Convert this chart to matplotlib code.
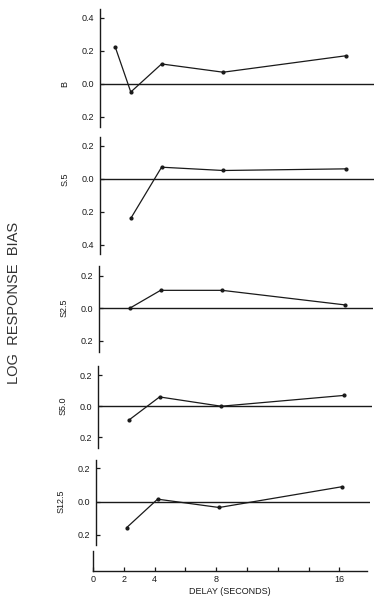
import matplotlib.pyplot as plt
import matplotlib.transforms as mtransforms
from matplotlib.ticker import FuncFormatter, FixedLocator

# data
labels = ['B', 'S.5', 'S2.5', 'S5.0', 'S12.5']
delays_b = [1, 2, 4, 8, 16]
delays = [2, 4, 8, 16]
bias_b = [0.22, -0.05, 0.12, 0.07, 0.17]
bias_s05 = [-0.24, 0.07, 0.05, 0.06]
bias_s25 = [0.0, 0.11, 0.11, 0.02]
bias_s50 = [-0.09, 0.06, 0.0, 0.07]
bias_s125 = [-0.155, 0.015, -0.035, 0.09]

xs = [delays_b, delays, delays, delays, delays]
ys = [bias_b, bias_s05, bias_s25, bias_s50, bias_s125]
yticks = [[0.4, 0.2, 0.0, -0.2], [0.2, 0.0, -0.2, -0.4],
          [0.2, 0.0, -0.2], [0.2, 0.0, -0.2], [0.2, 0.0, -0.2]]
ylims = [(-0.262, 0.453), (-0.456, 0.253), (-0.27, 0.26), (-0.27, 0.26), (-0.26, 0.25)]
xticks = [0, 2, 4, 6, 8, 10, 12, 14, 16]
xticklabels_shown = [0, 2, 4, 8, 16]

W, H = 385, 616
ink = '#1a1a1a'
plt.rcParams['font.family'] = ['Liberation Sans', 'DejaVu Sans']

fig = plt.figure(figsize=(W / 100, H / 100), dpi=100)

# panel boxes in pixels: left, top, bottom
boxes = [(100, 9, 127), (100, 137, 254), (99, 266, 352), (98, 366, 448), (96, 460, 545)]
width = 274
xmax = 17.8


def add_px_axes(left, top, bottom):
    return fig.add_axes([left / W, 1 - bottom / H, width / W, (bottom - top) / H])


fmt = FuncFormatter(lambda v, p: f'{abs(v):.1f}')

for (left, top, bottom), lab, x, y, yt, yl in zip(boxes, labels, xs, ys, yticks, ylims):
    ax = add_px_axes(left, top, bottom)
    ax.set_xlim(0, xmax)
    ax.set_ylim(*yl)
    for s in ['top', 'right', 'bottom']:
        ax.spines[s].set_visible(False)
    ax.spines['left'].set_color(ink)
    ax.spines['left'].set_linewidth(1.0)
    ax.set_xticks([])
    ax.set_yticks(yt)
    ax.yaxis.set_major_formatter(fmt)
    ax.tick_params(axis='y', direction='in', length=3, width=0.9, pad=4,
                   labelsize=6.5, colors=ink)
    ax.axhline(0, color=ink, lw=1.0)
    ax.plot(x, y, color=ink, lw=0.9, marker='o', ms=2, clip_on=False)
    tr = mtransforms.blended_transform_factory(ax.transAxes, ax.transData)
    ax.text(-35 / width, 0, lab, transform=tr, rotation=90, ha='center', va='center',
            fontsize=6.5, color=ink)

# bottom x axis
axb = add_px_axes(93, 551, 571)
axb.set_xlim(0, xmax)
axb.set_ylim(0, 1)
for s in ['top', 'right']:
    axb.spines[s].set_visible(False)
for s in ['left', 'bottom']:
    axb.spines[s].set_color(ink)
    axb.spines[s].set_linewidth(1.0)
axb.set_yticks([])
axb.xaxis.set_major_locator(FixedLocator(xticks))
axb.xaxis.set_major_formatter(FuncFormatter(
    lambda v, p: f'{int(v)}' if int(v) in xticklabels_shown else ''))
axb.tick_params(axis='x', direction='in', length=3, width=0.9, pad=3,
                labelsize=6.5, colors=ink)
axb.set_xlabel('DELAY (SECONDS)', fontsize=6.5, color=ink, labelpad=2)

fig.text(14 / W, 1 - 303 / H, 'LOG  RESPONSE  BIAS', rotation=90, ha='center',
         va='center', fontsize=10.5, color='#333333')

fig.savefig('out.png', dpi=100)
